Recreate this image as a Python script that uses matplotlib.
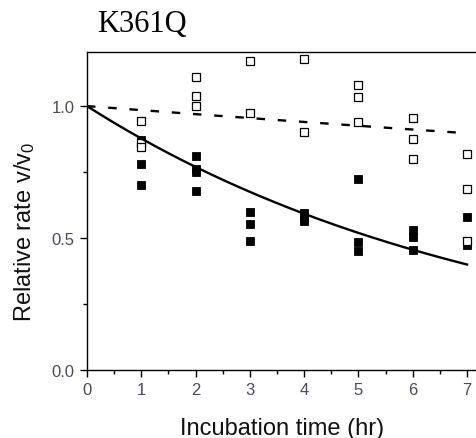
import numpy as np
import matplotlib
matplotlib.use("Agg")
import matplotlib.pyplot as plt

# ---- data ----
filled_t = [1, 1, 1, 2, 2, 2, 2, 3, 3, 3, 4, 4, 4, 5, 5, 5, 6, 6, 6, 7, 7]
filled_v = [0.87, 0.78, 0.70, 0.81, 0.76, 0.75, 0.68, 0.60, 0.555, 0.49,
            0.595, 0.58, 0.565, 0.725, 0.485, 0.45, 0.53, 0.505, 0.455, 0.58, 0.475]
open_t = [1, 1, 1, 2, 2, 2, 3, 3, 4, 4, 5, 5, 5, 6, 6, 6, 7, 7, 7]
open_v = [0.945, 0.86, 0.845, 1.11, 1.04, 1.0, 1.17, 0.975, 1.18, 0.90,
          1.08, 1.035, 0.94, 0.955, 0.875, 0.80, 0.82, 0.685, 0.49]
k_filled = 0.131   # first-order decay constant of solid fit (1/hr)
k_open = 0.0155    # first-order decay constant of dashed fit (1/hr)
fit_t_range = [0, 7]
xticks = [0, 1, 2, 3, 4, 5, 6, 7]
yticks = [0.0, 0.5, 1.0]
title = "K361Q"
xlabel = "Incubation time (hr)"
ylabel = "Relative rate v/v$_0$"

plt.rcParams['mathtext.fontset'] = 'custom'
plt.rcParams['mathtext.rm'] = 'Liberation Sans'
plt.rcParams['mathtext.it'] = 'Liberation Sans'

W, H = 476, 439
fig = plt.figure(figsize=(W / 100, H / 100), dpi=100)
x0_px, y0_px, top_px = 87, 371, 53
px_per_hr = 380 / 7
xmax = 7.2
ax = fig.add_axes([x0_px / W, (H - y0_px) / H, xmax * px_per_hr / W, (y0_px - top_px) / H])

t_fit = np.linspace(fit_t_range[0], fit_t_range[1], 200)
ax.plot(t_fit, np.exp(-k_filled * t_fit), color='black', lw=1.7, zorder=4)
ax.plot(t_fit, np.exp(-k_open * t_fit), color='black', lw=1.7,
        linestyle=(0, (3.6, 5.4)), zorder=4)

ax.plot(filled_t, filled_v, linestyle='none', marker='s', ms=5.2,
        mfc='black', mec='black', mew=0.6, zorder=3, clip_on=False)
ax.plot(open_t, open_v, linestyle='none', marker='s', ms=5.2,
        mfc='white', mec='black', mew=0.9, zorder=3.5, clip_on=False)

ax.set_xlim(0, xmax)
ax.set_ylim(0, 1.205)
ax.set_xticks(xticks)
ax.set_xticks(np.arange(0.5, 7.5, 1.0), minor=True)
ax.set_yticks(yticks)
ax.set_yticklabels([f"{v:.1f}" for v in yticks])
ax.set_yticks([0.25, 0.75], minor=True)

for s in ['left', 'bottom', 'top', 'right']:
    ax.spines[s].set_linewidth(1.0)
    ax.spines[s].set_color('black')

tick_col = '#4a4a5a'
ax.tick_params(axis='both', which='major', direction='out', length=5, width=1.0,
               labelsize=12, labelcolor=tick_col, pad=4)
ax.tick_params(axis='both', which='minor', direction='out', length=3, width=1.0)
for lab in ax.get_xticklabels() + ax.get_yticklabels():
    lab.set_fontfamily('Liberation Sans')

ax.set_xlabel(xlabel, fontsize=17, family='Liberation Sans', color='#111111', labelpad=14)
fig.text(25 / W, (H - 232) / H, ylabel, fontsize=17, family='Liberation Sans',
         color='#111111', rotation=90, ha='center', va='center')

fig.text(97 / W, (H - 32) / H, title, fontsize=22, family='Liberation Serif',
         ha='left', va='baseline')

fig.savefig("out.png", dpi=100)
